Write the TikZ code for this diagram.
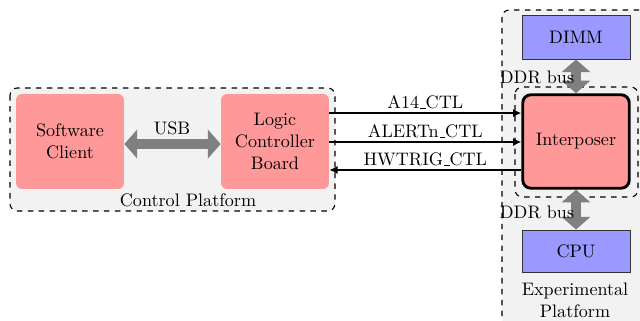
\documentclass[tikz,border=0pt]{standalone}
\usetikzlibrary{arrows.meta}
\def\ux{0.552pt}
\newcommand\lowbar{\leavevmode\kern.06em\vbox{\hrule width.3em}}
\begin{document}
\begin{tikzpicture}[x=\ux,y=-\ux,
  pinkbox/.style={fill=red!40, rounded corners=3.3pt, inner sep=0pt, align=center, minimum width=59.6pt, minimum height=52.4pt},
  bluebox/.style={fill=blue!40, draw=black!80, line width=0.5pt, inner sep=0pt, minimum width=59.6pt},
  platform/.style={fill=gray!10, draw=black, dashed, rounded corners=4pt, line width=0.6pt},
  sig/.style={line width=1.1pt, -{Latex[length=4.5pt,width=4.5pt]}},
  fat/.style={draw=gray, line width=5.5pt, {Triangle[length=7pt,width=15.5pt]}-{Triangle[length=7pt,width=15.5pt]}},
  lbl/.style={inner sep=0pt}
]
\useasboundingbox (0,0) rectangle (640,320);
\clip (0,0) rectangle (640,320);
% platforms
\draw[platform] (10,88) rectangle (335,211);
\draw[platform] (502,10) rectangle (680,360);
\draw[platform] (515,87) rectangle (638,197);
% boxes
\node[pinkbox] (sc) at (70,141.5) {Software\\Client};
\node[pinkbox] (lcb) at (275,141.5) {Logic\\Controller\\Board};
\node[pinkbox, draw=black, line width=1.6pt, rounded corners=4.5pt, minimum width=58.8pt, minimum height=51.6pt] (int) at (576,141.5) {Interposer};
\node[bluebox, minimum height=24.3pt] (dimm) at (576,37) {DIMM};
\node[bluebox, minimum height=23.2pt] (cpu) at (576,251) {CPU};
% fat buses
\draw[fat] ([yshift=-1.4pt]sc.east) -- ([yshift=-1.4pt]lcb.west);
\draw[fat] (dimm.south) -- (int.north);
\draw[fat] (int.south) -- (cpu.north);
% labels
\node[lbl] (usb) at (172,128) {USB};
\node[lbl] (ddr1) at (537,77) {DDR bus};
\node[lbl] (ddr2) at (537,212) {DDR bus};
\node[lbl] (cpl) at (188,200) {Control Platform};
\node[lbl, align=center] (epl) at (575,300) {Experimental\\Platform};
% signals
\draw[sig] ([yshift=15.7pt]lcb.east) -- node[above, inner sep=1.5pt] (la) {A14\lowbar CTL} ([yshift=15.7pt]int.west);
\draw[sig] ([yshift=-0.3pt]lcb.east) -- node[above, inner sep=1.5pt] (lb) {ALERTn\lowbar CTL} ([yshift=-0.3pt]int.west);
\draw[sig] ([yshift=-15.7pt]int.west) -- node[above, inner sep=1.5pt] (lc) {HWTRIG\lowbar CTL} ([yshift=-15.7pt]lcb.east);
\end{tikzpicture}
\end{document}
